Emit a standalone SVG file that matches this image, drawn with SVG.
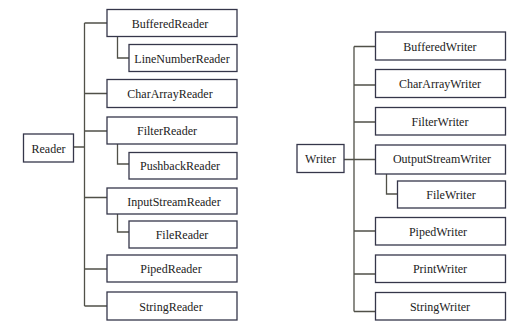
<svg xmlns="http://www.w3.org/2000/svg" width="526" height="331" viewBox="0 0 526 331">
<style>
.box{fill:#fff;stroke:#35364a;stroke-width:1.3}
.t{font-size:12px;fill:#222;text-anchor:middle}
.c{fill:none;stroke:#505048;stroke-width:1.3}
</style>
<rect width="526" height="331" fill="#fff"/>
<g id="connectors">
<path class="c" d="M84.5 23V306M84.5 23H107M84.5 93.5H107M84.5 131H107M84.5 197.5H107M84.5 269H107M84.5 306H107M73.5 147H84.5M117.5 36.5V58H129M117.5 144V164H129M117.5 214V232H129"/>
<path class="c" d="M354 46.5V311.5M354 46.5H375.5M354 85H375.5M354 122H375.5M343.5 159.5H375.5M354 231H375.5M354 274H375.5M354 311.5H375.5M386.5 174V194H397.5"/>
</g>
<g font-family="Liberation Serif, Times New Roman, serif">
<g id="Reader"><rect class="box" x="23.5" y="134" width="50" height="28"/><text class="t" x="48.5" y="152.5">Reader</text></g>
<g id="BufferedReader"><rect class="box" x="107" y="9.5" width="130" height="27"/><text class="t" x="170" y="27.5">BufferedReader</text></g>
<g id="LineNumberReader"><rect class="box" x="129" y="44.5" width="108" height="27"/><text class="t" x="182" y="62.5">LineNumberReader</text></g>
<g id="CharArrayReader"><rect class="box" x="107" y="79.5" width="130" height="28"/><text class="t" x="170" y="98">CharArrayReader</text></g>
<g id="FilterReader"><rect class="box" x="107" y="117" width="130" height="27"/><text class="t" x="167" y="135">FilterReader</text></g>
<g id="PushbackReader"><rect class="box" x="129" y="152.5" width="108" height="26.5"/><text class="t" x="180" y="170">PushbackReader</text></g>
<g id="InputStreamReader"><rect class="box" x="107" y="188" width="130" height="26"/><text class="t" x="174" y="205.5">InputStreamReader</text></g>
<g id="FileReader"><rect class="box" x="129" y="221" width="108" height="27"/><text class="t" x="182" y="239">FileReader</text></g>
<g id="PipedReader"><rect class="box" x="107" y="255" width="130" height="27"/><text class="t" x="171" y="273">PipedReader</text></g>
<g id="StringReader"><rect class="box" x="107" y="292" width="130" height="28"/><text class="t" x="171" y="310.5">StringReader</text></g>
<g id="Writer"><rect class="box" x="297" y="144.5" width="47" height="28"/><text class="t" x="320.5" y="163">Writer</text></g>
<g id="BufferedWriter"><rect class="box" x="375.5" y="32" width="130" height="28"/><text class="t" x="440" y="50.5">BufferedWriter</text></g>
<g id="CharArrayWriter"><rect class="box" x="375.5" y="69.5" width="130" height="28"/><text class="t" x="440" y="88">CharArrayWriter</text></g>
<g id="FilterWriter"><rect class="box" x="375.5" y="107.5" width="130" height="27.5"/><text class="t" x="440" y="125.5">FilterWriter</text></g>
<g id="OutputStreamWriter"><rect class="box" x="375.5" y="145" width="130" height="29"/><text class="t" x="442" y="163">OutputStreamWriter</text></g>
<g id="FileWriter"><rect class="box" x="397.5" y="181" width="108" height="27"/><text class="t" x="451" y="199">FileWriter</text></g>
<g id="PipedWriter"><rect class="box" x="375.5" y="217.5" width="130" height="27.5"/><text class="t" x="438" y="236">PipedWriter</text></g>
<g id="PrintWriter"><rect class="box" x="375.5" y="255" width="130" height="27.5"/><text class="t" x="440" y="273">PrintWriter</text></g>
<g id="StringWriter"><rect class="box" x="375.5" y="292.5" width="130" height="27.5"/><text class="t" x="440" y="311">StringWriter</text></g>
</g>
</svg>
